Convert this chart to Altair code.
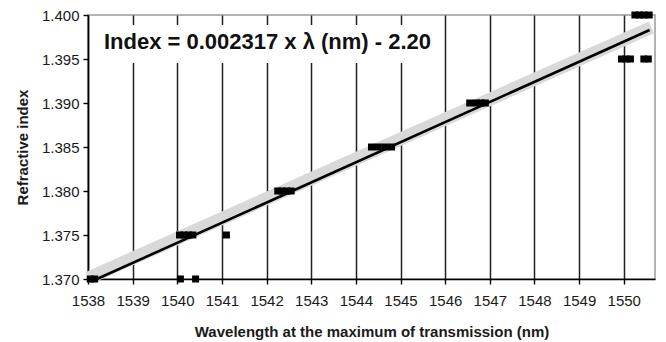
import altair as alt
import pandas as pd

# Measured transmission maxima (nm) and the refractive index of each sample
wavelength = [1538.05, 1538.15,
              1540.07, 1540.41,
              1540.05, 1540.15, 1540.25, 1540.35, 1541.10,
              1542.25, 1542.35, 1542.45, 1542.55,
              1544.35, 1544.50, 1544.65, 1544.80,
              1546.55, 1546.70, 1546.80, 1546.90,
              1549.95, 1550.05, 1550.15, 1550.45, 1550.55,
              1550.25, 1550.35, 1550.45, 1550.57]
index = [1.370, 1.370,
         1.370, 1.370,
         1.375, 1.375, 1.375, 1.375, 1.375,
         1.380, 1.380, 1.380, 1.380,
         1.385, 1.385, 1.385, 1.385,
         1.390, 1.390, 1.390, 1.390,
         1.395, 1.395, 1.395, 1.395, 1.395,
         1.400, 1.400, 1.400, 1.400]

# Linear trend line end points and the wide light band behind it
fit_wl = [1538.2, 1550.58]
fit_index = [1.3700, 1.3983]
band_wl = [1538.0, 1550.62]
band_index = [1.3701, 1.3986]

x_ticks = list(range(1538, 1551))
y_ticks = [1.370, 1.375, 1.380, 1.385, 1.390, 1.395, 1.400]
equation = "Index = 0.002317 x \u03bb (nm) - 2.20"

points = pd.DataFrame({"wl": wavelength, "n": index})
fit = pd.DataFrame({"wl": fit_wl, "n": fit_index})
band = pd.DataFrame({"wl": band_wl, "n": band_index})

FONT = "Liberation Sans"

x_enc = alt.X(
    "wl:Q",
    scale=alt.Scale(domain=[1538, 1550.7], nice=False, zero=False),
    axis=alt.Axis(
        values=x_ticks, format="d", grid=True, gridColor="#222222", gridWidth=1.5,
        gridOpacity=1, domainColor="#000000", domainWidth=1.5,
        tickColor="#000000", tickSize=5, tickWidth=1.4, labelOverlap=False,
        labelFlush=False, labelFont=FONT, labelFontSize=15, labelColor="#1a1a1a",
        labelPadding=9, title="Wavelength at the maximum of transmission (nm)",
        titleFont=FONT, titleFontSize=15, titleFontWeight="bold",
        titleColor="#1a1a1a", titlePadding=16,
    ),
)
y_enc = alt.Y(
    "n:Q",
    scale=alt.Scale(domain=[1.370, 1.400], nice=False, zero=False),
    axis=alt.Axis(
        values=y_ticks, format=".3f", grid=False, domainColor="#000000",
        domainWidth=1.5, tickColor="#000000", tickSize=5, tickWidth=1.4,
        labelOverlap=False, labelFlush=False,
        labelFont=FONT, labelFontSize=15, labelColor="#1a1a1a", labelPadding=4,
        title="Refractive index", titleFont=FONT, titleFontSize=15,
        titleFontWeight="bold", titleColor="#1a1a1a", titlePadding=11,
    ),
)

band_layer = alt.Chart(band).mark_line(
    color="#d9d9d9", strokeWidth=13, strokeCap="butt"
).encode(x=x_enc, y=y_enc)

fit_layer = alt.Chart(fit).mark_line(
    color="#000000", strokeWidth=2.6
).encode(x="wl:Q", y="n:Q")

point_layer = alt.Chart(points).mark_square(
    color="#000000", size=49, opacity=1, filled=True
).encode(x="wl:Q", y="n:Q")

# White box behind the equation
box_layer = alt.Chart(pd.DataFrame({"t": [equation]})).mark_rect(
    color="#ffffff"
).encode(x=alt.value(7), x2=alt.value(348), y=alt.value(10), y2=alt.value(48))

text_layer = alt.Chart(pd.DataFrame({"t": [equation]})).mark_text(
    font=FONT, fontSize=22, fontWeight="bold", color="#111111",
    align="center", baseline="middle"
).encode(x=alt.value(179.5), y=alt.value(27), text="t:N")

chart = alt.layer(
    band_layer, fit_layer, point_layer, box_layer, text_layer
).properties(
    width=567, height=264,
    autosize=alt.AutoSizeParams(type="none"),
    padding={"left": 88, "top": 15, "right": 11, "bottom": 63},
    background="#ffffff",
).configure_view(
    stroke="#9a9a9a", strokeWidth=1.5
)

chart.save("out.html", embed_options={"renderer": "svg", "actions": False})
